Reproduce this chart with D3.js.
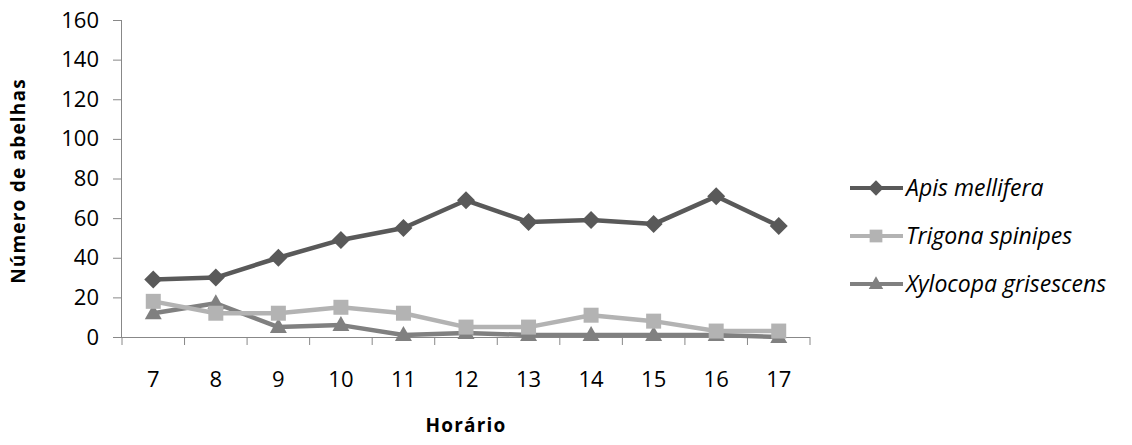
<!DOCTYPE html>
<html><head><meta charset="utf-8">
<script src="https://cdn.jsdelivr.net/npm/d3@7"></script>
<style>body{margin:0;background:#fff}svg{display:block}text{font-family:"Open Sans",sans-serif;fill:#000}</style>
</head><body><svg id="c" width="1132" height="445"></svg>
<script>
const hours = ["7","8","9","10","11","12","13","14","15","16","17"];
const apis = [29,30,40,49,55,69,58,59,57,71,56];
const trigona = [18,12,12,15,12,5,5,11,8,3,3];
const xylocopa = [12,17,5,6,1,2,1,1,1,1,0];
const seriesNames = ["Apis mellifera","Trigona spinipes","Xylocopa grisescens"];
const yTicks = [0,20,40,60,80,100,120,140,160];

const svg = d3.select("#c");
const x = d3.scaleBand().domain(hours).range([122,810]);
const y = d3.scaleLinear().domain([0,160]).range([337,20]);
const series = [
  {name:seriesNames[0], values:apis, color:"#595959", shape:"diamond"},
  {name:seriesNames[1], values:trigona, color:"#b3b3b3", shape:"square"},
  {name:seriesNames[2], values:xylocopa, color:"#808080", shape:"triangle"}
];

// axes
const ya = svg.append("g").attr("transform","translate(122,0)")
  .call(d3.axisLeft(y).tickValues(yTicks).tickSize(9).tickPadding(14));
ya.select(".domain").attr("stroke","#888").attr("d","M-0.5,20V337");
ya.selectAll(".tick line").attr("stroke","#888");
ya.selectAll(".tick text").attr("font-size",22).attr("fill","#222").attr("font-family","Open Sans, sans-serif");

const xa = svg.append("g").attr("transform","translate(0,337)")
  .call(d3.axisBottom(x).tickSize(0).tickPadding(34));
xa.select(".domain").attr("stroke","#888").attr("d","M122,0.5H810");
xa.selectAll(".tick text").attr("font-size",22).attr("fill","#222").attr("font-family","Open Sans, sans-serif");
// category boundary ticks
svg.append("g").selectAll("line").data(hours.concat(["end"])).join("line")
  .attr("x1",(d,i)=>122+i*x.step()).attr("x2",(d,i)=>122+i*x.step())
  .attr("y1",337).attr("y2",345).attr("stroke","#888");

const cx = d => x(d)+x.bandwidth()/2;
function markerPath(shape, k){
  const p = d3.path();
  if(shape==="diamond"){ const r=9*k; p.moveTo(0,-r);p.lineTo(r,0);p.lineTo(0,r);p.lineTo(-r,0);p.closePath(); }
  else if(shape==="square"){ const h=7.5*k; p.rect(-h,-h,2*h,2*h); }
  else { const w=8.5*k, h=15*k; p.moveTo(0,-h*0.6);p.lineTo(w,h*0.4);p.lineTo(-w,h*0.4);p.closePath(); }
  return p.toString();
}
const line = d3.line().x(d=>cx(d.h)).y(d=>y(d.v));

series.slice().reverse().forEach(s=>{
  const pts = hours.map((h,i)=>({h, v:s.values[i]}));
  const g = svg.append("g");
  g.append("path").datum(pts).attr("d",line).attr("fill","none").attr("stroke",s.color).attr("stroke-width",4.5).attr("stroke-linejoin","round");
  g.selectAll("path.m").data(pts).join("path").attr("class","m")
    .attr("transform",d=>`translate(${cx(d.h)},${y(d.v)})`)
    .attr("d",markerPath(s.shape,1)).attr("fill",s.color);
});

// legend
const leg = svg.append("g");
series.forEach((s,i)=>{
  const ly = 188 + i*48;
  leg.append("line").attr("x1",850).attr("x2",903).attr("y1",ly).attr("y2",ly).attr("stroke",s.color).attr("stroke-width",4);
  leg.append("path").attr("transform",`translate(876,${ly})`).attr("d",markerPath(s.shape,0.85)).attr("fill",s.color);
  leg.append("text").attr("x",906).attr("y",ly+8).attr("font-size",23).attr("font-style","italic").attr("fill","#222").text(s.name);
});

// titles
svg.append("text").attr("transform","translate(25,181) rotate(-90)").attr("text-anchor","middle")
  .attr("font-size",19).attr("letter-spacing",1.2).attr("font-weight","bold").text("Número de abelhas");
svg.append("text").attr("x",466).attr("y",432).attr("text-anchor","middle")
  .attr("font-size",19).attr("letter-spacing",1.2).attr("font-weight","bold").text("Horário");
</script></body></html>
